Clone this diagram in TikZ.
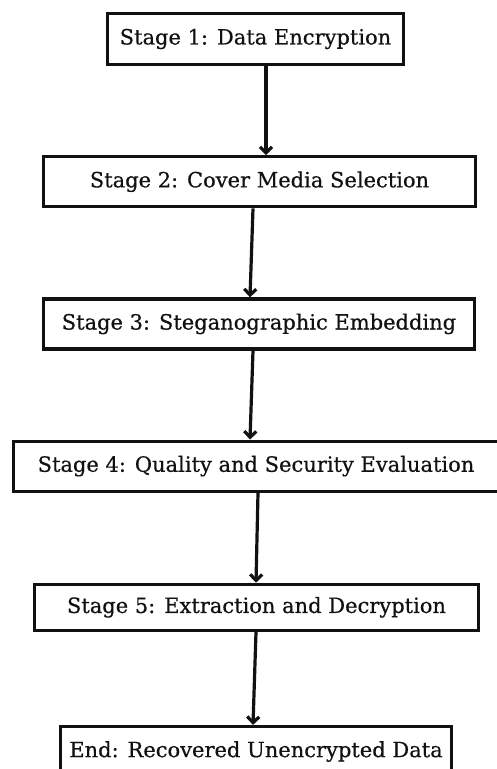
\documentclass[tikz,border=0pt]{standalone}
\usepackage{fontspec}
\setmainfont{DejaVu Serif}[FakeBold=0.5]
\usetikzlibrary{positioning,arrows.meta}
\definecolor{inkBlack}{HTML}{111111}
\definecolor{pageWhite}{HTML}{FFFFFF}
\tikzset{
    stagebox/.style={draw=inkBlack,fill=pageWhite,line width=3.2pt,
        minimum height=50pt,inner sep=0pt,align=center,text=inkBlack,
        font=\fontsize{21}{25}\selectfont},
    arrow/.style={-{Straight Barb[length=6pt,width=12pt]},draw=inkBlack,line width=3.2pt}
}

\begin{document}
\begin{tikzpicture}[x=1pt,y=-1pt,node distance=89pt]
    \fill[pageWhite] (0,0) rectangle (496,769);
    \useasboundingbox (0,0) rectangle (496,769);
    \node[stagebox,minimum width=296pt,minimum height=51pt] (s1) at (255.5,39) {Stage 1: Data Encryption};
    \node[stagebox,minimum width=432pt] (s2) [below=of s1,xshift=4pt] {Stage 2: Cover Media Selection};
    \node[stagebox,minimum width=431pt] (s3) [below=of s2,xshift=-0.5pt] {Stage 3: Steganographic Embedding};
    \node[stagebox,minimum width=485pt] (s4) [below=of s3,xshift=-3pt] {Stage 4: Quality and Security Evaluation};
    \node[stagebox,minimum width=444pt,minimum height=46pt] (s5) [below=90pt of s4,xshift=0.5pt] {Stage 5: Extraction and Decryption};
    \node[stagebox,minimum width=391pt] (s6) [below=93pt of s5,xshift=-0.5pt] {End: Recovered Unencrypted Data};
    % connectors, slightly off-centre as in the sketch
    \draw[arrow] ([xshift=10.5pt]s1.south) -- ([xshift=6.5pt]s2.north);
    \draw[arrow] ([xshift=-6.5pt]s2.south) -- ([xshift=-9pt]s3.north);
    \draw[arrow] ([xshift=-6pt]s3.south) -- ([xshift=-6pt]s4.north);
    \draw[arrow] ([xshift=2pt]s4.south) -- ([xshift=-0.5pt]s5.north);
    \draw[arrow] ([xshift=-0.5pt]s5.south) -- ([xshift=-3pt]s6.north);
\end{tikzpicture}
\end{document}
